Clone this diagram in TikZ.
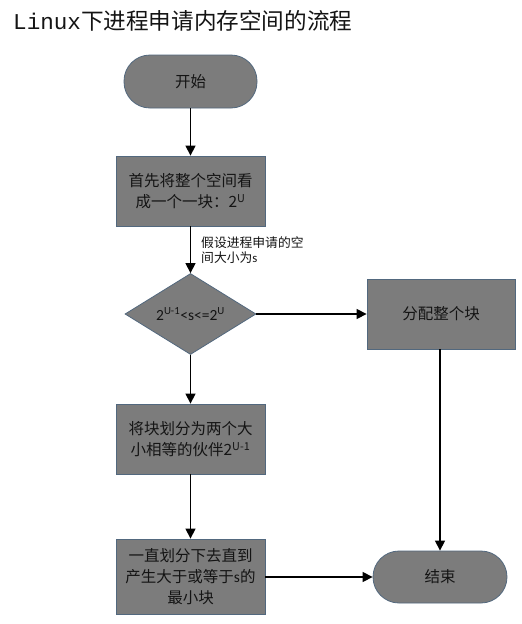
\documentclass[tikz,border=0pt]{standalone}
\usepackage{fontspec}
\setmainfont{Carlito}
\newfontfamily\cjk{Noto Sans CJK SC}
\newfontfamily\monof{Liberation Mono}
\usetikzlibrary{arrows.meta,shapes.geometric}
\definecolor{boxgray}{HTML}{7C7C7C}
\definecolor{bordc}{HTML}{52687E}
\definecolor{txt}{HTML}{141414}
\begin{document}
\begin{tikzpicture}[x=1pt,y=-1pt,
  box/.style={draw=bordc, fill=boxgray, line width=0.8pt, minimum width=149pt, minimum height=70pt,
    align=center, font=\fontsize{15.5}{21}\selectfont, text=txt, inner sep=0pt},
  pill/.style={draw=bordc, fill=boxgray, line width=0.8pt, rounded corners=26pt,
    align=center, font=\fontsize{15.5}{21}\selectfont, text=txt, inner sep=0pt},
  decision/.style={draw=bordc, fill=boxgray, line width=0.8pt, diamond, minimum width=131pt,
    minimum height=78pt, inner sep=0pt, font=\fontsize{15.5}{21}\selectfont, text=txt},
  arr/.style={-{Triangle[length=10pt,width=10pt]}, line width=1.3pt, black},
  lbl/.style={font=\fontsize{12.8}{15}\selectfont, align=left, inner sep=0pt, text=txt}]
\useasboundingbox (0,0) rectangle (522,624);
\fill[white] (0,0) rectangle (522,624);

\node[anchor=west, inner sep=0pt, font=\fontsize{22.6}{26}\selectfont, text=txt] (title) at (13,21)
  {\monof Linux\cjk 下进程申请内存空间的流程};

\node[pill, minimum width=133pt, minimum height=53pt] (start) at (190.5,81.5) {\cjk 开始};
\node[box] (b1) at (190.5,191) {\cjk 首先将整个空间看\\\cjk 成一个一块：2\textsuperscript{U}};
\node[decision] (d) at (190.5,314) {2\textsuperscript{U-1}<s<=2\textsuperscript{U}};
\node[box, minimum width=148pt, minimum height=70pt] (alloc) at (441,314) {\cjk 分配整个块};
\node[box] (split) at (190.5,439) {\cjk 将块划分为两个大\\\cjk 小相等的伙伴2\textsuperscript{U-1}};
\node[box, minimum height=75pt] (last) at (190.5,576.5)
  {\cjk 一直划分下去直到\\\cjk 产生大于或等于{\rmfamily s}的\\\cjk 最小块};
\node[pill, minimum width=134pt, minimum height=52pt] (end) at (440,577) {\cjk 结束};

\draw[arr] (start) -- (b1);
\draw[arr] (b1) -- (d);
\node[lbl, anchor=north west] (lab) at (201,236) {\cjk 假设进程申请的空\\\cjk 间大小为{\rmfamily s}};
\draw[arr] (d) -- (split);
\draw[arr] (split) -- (last);
\draw[arr] (d) -- (alloc);
\draw[arr] (alloc.south -| end.north) -- (end.north);
\draw[arr] (last.east |- end.west) -- (end.west);
\end{tikzpicture}
\end{document}
